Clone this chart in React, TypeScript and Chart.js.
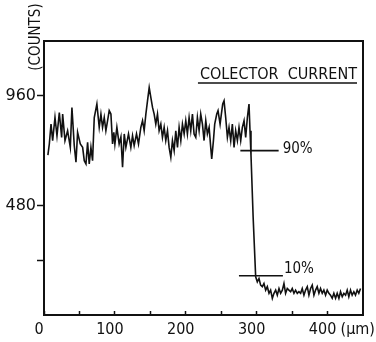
import React, { useEffect, useRef } from "react";
import { Chart, registerables } from "chart.js";

Chart.register(...registerables);

// Signal trace (position in µm, collector current in counts)
const POSITIONS_UM = [
  5.5, 7.5, 9.9, 12.2, 15.5, 18.3, 21.6, 24.9, 26.3, 29.6, 33.3, 37.1, 39.4, 42.7, 45.1, 47.4,
  51.2, 54.5, 56.8, 59.2, 61.5, 63.8, 66.2, 68.5, 70.9, 74.6, 77.9, 80.3, 82.6, 85.0, 87.3, 89.7,
  92.0, 94.4, 96.7, 98.5, 100.0, 102.8, 106.0, 108.5, 110.8, 113.2, 115.5, 119.2, 122.5, 124.9,
  127.2, 130.5, 133.3, 136.6, 139.0, 141.3, 143.7, 146.0, 148.4, 150.7, 153.1, 155.4, 157.7,
  160.1, 162.4, 164.8, 167.1, 169.5, 171.8, 174.2, 176.5, 178.9, 181.2, 183.6, 185.9, 188.3,
  190.6, 193.0, 195.3, 197.7, 200.0, 202.3, 204.7, 207.0, 209.4, 211.7, 214.1, 216.4, 218.8,
  221.1, 223.5, 225.8, 228.2, 230.5, 232.9, 235.2, 236.6, 239.0, 240.8, 243.7, 245.5, 248.4,
  250.2, 252.1, 254.0, 256.3, 258.7, 261.0, 263.4, 265.7, 268.1, 270.4, 272.8, 275.1, 277.5,
  279.8, 282.2, 284.5, 286.9, 289.2, 290.6, 292.0, 295.0, 298.6, 300.9, 303.3, 305.6, 308.0,
  310.3, 312.7, 315.0, 317.4, 319.7, 322.1, 324.4, 326.8, 329.1, 331.5, 333.8, 336.2, 338.5,
  340.8, 343.2, 345.5, 347.9, 350.2, 352.6, 354.9, 357.3, 359.6, 362.0, 364.3, 366.7, 369.0,
  371.4, 373.7, 376.1, 378.4, 380.8, 383.1, 385.4, 387.8, 390.1, 392.5, 394.8, 397.2, 399.5,
  401.9, 404.2, 406.6, 408.9, 411.3, 413.6, 416.0, 418.3, 420.7, 423.0, 425.4, 427.7, 430.0,
  432.4, 434.7, 437.1, 439.4, 441.8, 444.1, 446.5,
];

const COUNTS = [
  700, 749, 836, 764, 865, 785, 887, 778, 880, 764, 807, 734, 909, 742, 669, 800,
  749, 734, 676, 662, 756, 662, 734, 676, 865, 924, 822, 880, 822, 865, 807, 851,
  895, 880, 749, 800, 749, 822, 749, 780, 647, 793, 734, 793, 734, 785,
  742, 793, 749, 822, 851, 807, 880, 938, 996, 953, 909, 880, 836,
  880, 807, 836, 778, 822, 764, 807, 734, 691, 764, 720, 807, 734,
  822, 764, 836, 793, 851, 793, 865, 807, 880, 793, 778, 865, 807,
  880, 836, 764, 851, 793, 822, 734, 684, 764, 836, 880, 895, 836,
  880, 924, 938, 865, 778, 822, 764, 836, 734, 807, 764, 822, 764,
  822, 851, 778, 865, 924, 807, 700, 430, 167, 145, 160, 131, 124,
  138, 109, 124, 95, 109, 73, 95, 109, 87, 116, 95, 109, 138,
  95, 116, 109, 102, 116, 95, 109, 95, 102, 95, 116, 87, 109,
  124, 87, 116, 131, 87, 109, 124, 95, 116, 95, 109, 87, 109,
  95, 87, 73, 95, 73, 95, 73, 102, 80, 95, 87, 109, 80,
  109, 87, 102, 87, 109, 95, 116,
];

// 90% / 10% marker lines
const MARK_LABELS = ["90%", "10%"];
const MARK_LEVELS = [720, 172];
const MARK_X_START = [277, 275];
const MARK_X_END = [331, 337];

const X_TICKS = [0, 50, 100, 150, 200, 250, 300, 350, 400];
const X_LABELS = [0, 100, 200, 300, 400];
const Y_TICKS = [240, 480, 960];
const Y_LABELS = [480, 960];

const TITLE = "COLECTOR  CURRENT";
const Y_TITLE = "(COUNTS)";
const X_UNIT = "(µm)";

const INK = "#111";
const NARROW = "'Liberation Sans Narrow', 'DejaVu Sans Condensed', sans-serif";

export default function App() {
  const ref = useRef<HTMLCanvasElement | null>(null);

  useEffect(() => {
    const canvas = ref.current;
    if (!canvas) return;

    const trace = POSITIONS_UM.map((x, i) => ({ x, y: COUNTS[i] }));
    const markSets = MARK_LEVELS.map((lvl, i) => ({
      data: [
        { x: MARK_X_START[i], y: lvl },
        { x: MARK_X_END[i], y: lvl },
      ],
      borderColor: INK,
      borderWidth: 1.6,
      pointRadius: 0,
      showLine: true,
    }));

    const decor = {
      id: "decor",
      afterDraw(chart: any) {
        const { ctx, chartArea: a, scales } = chart;
        const xs = scales.x;
        const ys = scales.y;
        ctx.save();
        ctx.strokeStyle = INK;
        ctx.fillStyle = INK;
        // top and right frame
        ctx.lineWidth = 2;
        ctx.beginPath();
        ctx.moveTo(a.left, a.top);
        ctx.lineTo(a.right, a.top);
        ctx.lineTo(a.right, a.bottom);
        ctx.stroke();

        // title with underline
        ctx.font = `16px ${NARROW}`;
        ctx.textAlign = "right";
        ctx.textBaseline = "alphabetic";
        const tx = a.right - 6;
        const ty = a.top + 37.5;
        ctx.fillText(TITLE, tx, ty);
        const w = ctx.measureText(TITLE).width;
        ctx.lineWidth = 1.5;
        ctx.beginPath();
        ctx.moveTo(tx - w - 2, ty + 4.5);
        ctx.lineTo(tx, ty + 4.5);
        ctx.stroke();

        // marker labels
        ctx.font = `15px ${NARROW}`;
        ctx.textAlign = "left";
        MARK_LABELS.forEach((lab, i) => {
          const py = ys.getPixelForValue(MARK_LEVELS[i]);
          const px = xs.getPixelForValue(MARK_X_END[i]);
          if (i === 0) ctx.fillText(lab, px + 4, py + 2);
          else ctx.fillText(lab, px + 1, py - 3);
        });

        // y title rotated
        ctx.save();
        ctx.font = `15px ${NARROW}`;
        ctx.translate(36, 37);
        ctx.rotate(-Math.PI / 2);
        ctx.textAlign = "center";
        ctx.textBaseline = "middle";
        ctx.fillText(Y_TITLE, 0, 0);
        ctx.restore();

        // x unit
        ctx.font = `16px ${NARROW}`;
        ctx.textAlign = "left";
        ctx.textBaseline = "middle";
        ctx.fillText(X_UNIT, xs.getPixelForValue(400) + 13, a.bottom + 15);
        ctx.restore();
      },
    };

    const chart = new Chart(canvas, {
      type: "scatter",
      data: {
        datasets: [
          {
            data: trace,
            borderColor: INK,
            borderWidth: 1.6,
            pointRadius: 0,
            showLine: true,
            tension: 0,
          },
          ...markSets,
        ] as any,
      },
      options: {
        animation: false,
        responsive: false,
        maintainAspectRatio: false,
        layout: { padding: { top: 41, right: 13, left: 0, bottom: 0 } },
        plugins: { legend: { display: false }, tooltip: { enabled: false }, title: { display: false } },
        scales: {
          x: {
            type: "linear",
            min: 0,
            max: 450,
            afterBuildTicks: (s: any) => {
              s.ticks = X_TICKS.map((v) => ({ value: v }));
            },
            afterFit: (s: any) => {
              s.height = 27;
            },
            grid: {
              drawOnChartArea: false,
              drawTicks: true,
              tickLength: -4,
              tickColor: INK,
              tickWidth: 1.5,
            },
            border: { display: true, color: INK, width: 2 },
            ticks: {
              autoSkip: false,
              maxRotation: 0,
              padding: 9,
              labelOffset: -5,
              color: INK,
              font: { family: NARROW, size: 16 },
              callback: (v: any) => (X_LABELS.includes(Number(v)) ? String(v) : ""),
            },
          },
          y: {
            type: "linear",
            min: 0,
            max: 1200,
            afterBuildTicks: (s: any) => {
              s.ticks = Y_TICKS.map((v) => ({ value: v }));
            },
            afterFit: (s: any) => {
              s.width = 44;
            },
            grid: {
              drawOnChartArea: false,
              drawTicks: true,
              tickLength: 7,
              tickColor: INK,
              tickWidth: 1.5,
            },
            border: { display: true, color: INK, width: 2 },
            ticks: {
              autoSkip: false,
              padding: 1,
              color: INK,
              font: { family: "'DejaVu Sans', sans-serif", size: 16 },
              callback: (v: any) => (Y_LABELS.includes(Number(v)) ? String(v) : ""),
            },
          },
        },
      },
      plugins: [decor],
    });
    return () => chart.destroy();
  }, []);

  return (
    <div style={{ position: "fixed", left: 0, top: 0, width: 376, height: 342, background: "#fff" }}>
      <canvas ref={ref} width={376} height={342} style={{ width: 376, height: 342, display: "block" }} />
    </div>
  );
}
